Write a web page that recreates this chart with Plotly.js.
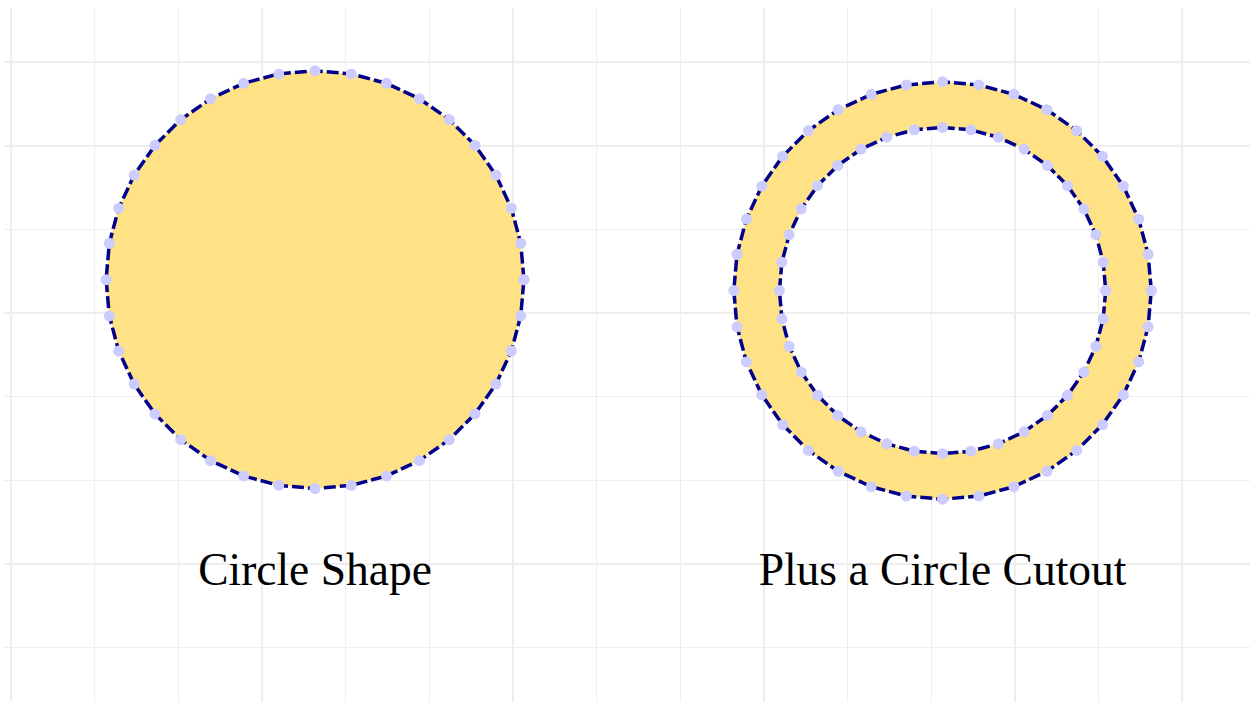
<!DOCTYPE html>
<html>
<head>
<meta charset="utf-8">
<script src="https://cdn.plot.ly/plotly-3.0.1.min.js"></script>
<style>html,body{margin:0;padding:0;background:#fff;}</style>
</head>
<body>
<div id="chart" style="width:1250px;height:702px;"></div>
<script>
// vertex angles (degrees) of the polygonal circles, 36 steps, closed
const angleDeg = [0,10,20,30,40,50,60,70,80,90,100,110,120,130,140,150,160,170,
                  180,190,200,210,220,230,240,250,260,270,280,290,300,310,320,330,340,350,360];
// circle definitions (data units)
const shapeNames   = ["Circle Shape", "Plus a Circle Cutout"];
const centerX      = [3.634, 11.135];
const centerY      = [4.40, 4.27];
const outerRadius  = [2.497, 2.495];
const innerRadius  = [null, 1.950];
const labelY       = [0.885, 0.885];

function ring(cx, cy, r, reverse) {
  const a = reverse ? angleDeg.slice().reverse() : angleDeg;
  return {
    x: a.map(d => cx + r * Math.cos(d * Math.PI / 180)),
    y: a.map(d => cy + r * Math.sin(d * Math.PI / 180))
  };
}

const lineStyle = {color: '#00008b', width: 3.5, dash: '12px,4px'};
const markerStyle = {color: '#ccccff', size: 11};
const fillCol = '#ffe286';

const traces = [];
for (let i = 0; i < shapeNames.length; i++) {
  const o = ring(centerX[i], centerY[i], outerRadius[i], false);
  let xs = o.x, ys = o.y;
  if (innerRadius[i] !== null) {
    const inn = ring(centerX[i], centerY[i], innerRadius[i], true);
    xs = xs.concat([null], inn.x);
    ys = ys.concat([null], inn.y);
  }
  traces.push({
    type: 'scatter', mode: 'lines+markers', name: shapeNames[i],
    x: xs, y: ys, fill: 'toself', fillcolor: fillCol,
    line: lineStyle, marker: markerStyle, hoverinfo: 'none', showlegend: false
  });
}
traces.push({
  type: 'scatter', mode: 'text', x: centerX, y: labelY, text: shapeNames,
  textposition: 'middle center',
  textfont: {family: 'Liberation Serif', size: 45.5, color: '#000'},
  hoverinfo: 'none', showlegend: false
});

const axisCommon = {
  showticklabels: false, ticks: '', zeroline: false, showline: false,
  showgrid: true, gridcolor: '#eeeeee', gridwidth: 1.5, dtick: 1, tick0: 0
};

const layout = {
  width: 1250, height: 702,
  margin: {l: 4, r: 0, t: 8, b: 0, pad: 0},
  paper_bgcolor: '#fff', plot_bgcolor: '#fff',
  showlegend: false,
  xaxis: Object.assign({range: [-0.0837, 14.81]}, axisCommon),
  yaxis: Object.assign({range: [-0.649, 7.647]}, axisCommon)
};

Plotly.newPlot('chart', traces, layout, {staticPlot: true, displayModeBar: false});
</script>
</body>
</html>
